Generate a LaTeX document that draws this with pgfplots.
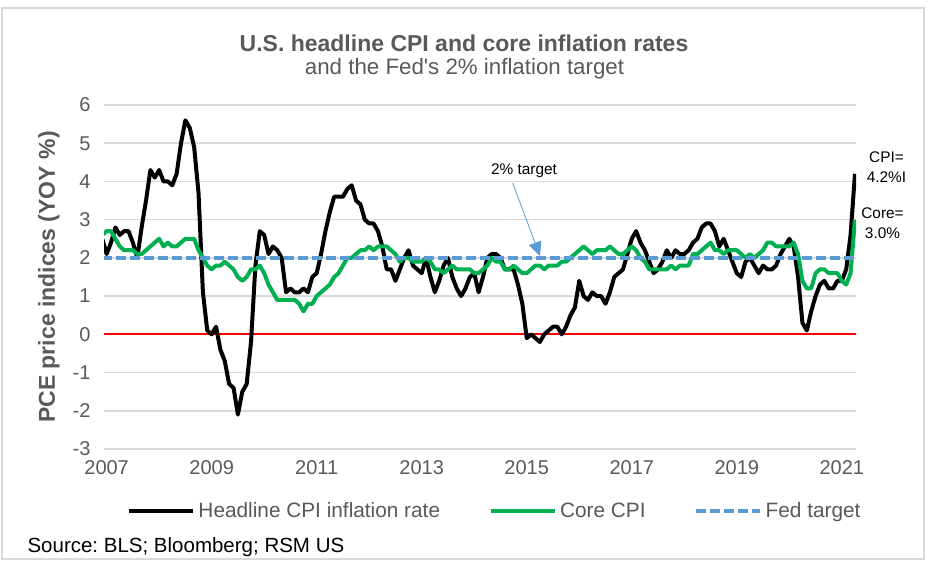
\documentclass[border=0pt]{standalone}
\usepackage{fontspec}
\setmainfont{Liberation Sans}
\usepackage{pgfplots}
\usepackage{pgfplotstable}
\pgfplotsset{compat=1.18}
\usetikzlibrary{arrows.meta}
\definecolor{txt}{HTML}{595959}
\definecolor{gridc}{HTML}{D9D9D9}
\definecolor{fed}{HTML}{5B9BD5}
\definecolor{corec}{HTML}{00B050}
\pgfplotstableread{
yr mo cpi core
2006 12 2.5 2.6
2007 1 2.1 2.7
2007 2 2.4 2.7
2007 3 2.8 2.5
2007 4 2.6 2.3
2007 5 2.7 2.2
2007 6 2.7 2.2
2007 7 2.4 2.2
2007 8 2.0 2.1
2007 9 2.8 2.1
2007 10 3.5 2.2
2007 11 4.3 2.3
2007 12 4.1 2.4
2008 1 4.3 2.5
2008 2 4.0 2.3
2008 3 4.0 2.4
2008 4 3.9 2.3
2008 5 4.2 2.3
2008 6 5.0 2.4
2008 7 5.6 2.5
2008 8 5.4 2.5
2008 9 4.9 2.5
2008 10 3.7 2.2
2008 11 1.1 2.0
2008 12 0.1 1.8
2009 1 0.0 1.7
2009 2 0.2 1.8
2009 3 -0.4 1.8
2009 4 -0.7 1.9
2009 5 -1.3 1.8
2009 6 -1.4 1.7
2009 7 -2.1 1.5
2009 8 -1.5 1.4
2009 9 -1.3 1.5
2009 10 -0.2 1.7
2009 11 1.8 1.7
2009 12 2.7 1.8
2010 1 2.6 1.6
2010 2 2.1 1.3
2010 3 2.3 1.1
2010 4 2.2 0.9
2010 5 2.0 0.9
2010 6 1.1 0.9
2010 7 1.2 0.9
2010 8 1.1 0.9
2010 9 1.1 0.8
2010 10 1.2 0.6
2010 11 1.1 0.8
2010 12 1.5 0.8
2011 1 1.6 1.0
2011 2 2.1 1.1
2011 3 2.7 1.2
2011 4 3.2 1.3
2011 5 3.6 1.5
2011 6 3.6 1.6
2011 7 3.6 1.8
2011 8 3.8 2.0
2011 9 3.9 2.0
2011 10 3.5 2.1
2011 11 3.4 2.2
2011 12 3.0 2.2
2012 1 2.9 2.3
2012 2 2.9 2.2
2012 3 2.7 2.3
2012 4 2.3 2.3
2012 5 1.7 2.3
2012 6 1.7 2.2
2012 7 1.4 2.1
2012 8 1.7 1.9
2012 9 2.0 2.0
2012 10 2.2 2.0
2012 11 1.8 1.9
2012 12 1.7 1.9
2013 1 1.6 1.9
2013 2 2.0 2.0
2013 3 1.5 1.9
2013 4 1.1 1.7
2013 5 1.4 1.7
2013 6 1.8 1.6
2013 7 2.0 1.7
2013 8 1.5 1.8
2013 9 1.2 1.7
2013 10 1.0 1.7
2013 11 1.2 1.7
2013 12 1.5 1.7
2014 1 1.6 1.6
2014 2 1.1 1.6
2014 3 1.5 1.7
2014 4 2.0 1.8
2014 5 2.1 2.0
2014 6 2.1 1.9
2014 7 2.0 1.9
2014 8 1.7 1.7
2014 9 1.7 1.7
2014 10 1.7 1.8
2014 11 1.3 1.7
2014 12 0.8 1.6
2015 1 -0.1 1.6
2015 2 0.0 1.7
2015 3 -0.1 1.8
2015 4 -0.2 1.8
2015 5 0.0 1.7
2015 6 0.1 1.8
2015 7 0.2 1.8
2015 8 0.2 1.8
2015 9 0.0 1.9
2015 10 0.2 1.9
2015 11 0.5 2.0
2015 12 0.7 2.1
2016 1 1.4 2.2
2016 2 1.0 2.3
2016 3 0.9 2.2
2016 4 1.1 2.1
2016 5 1.0 2.2
2016 6 1.0 2.2
2016 7 0.8 2.2
2016 8 1.1 2.3
2016 9 1.5 2.2
2016 10 1.6 2.1
2016 11 1.7 2.1
2016 12 2.1 2.2
2017 1 2.5 2.3
2017 2 2.7 2.2
2017 3 2.4 2.0
2017 4 2.2 1.9
2017 5 1.9 1.7
2017 6 1.6 1.7
2017 7 1.7 1.7
2017 8 1.9 1.7
2017 9 2.2 1.7
2017 10 2.0 1.8
2017 11 2.2 1.7
2017 12 2.1 1.8
2018 1 2.1 1.8
2018 2 2.2 1.8
2018 3 2.4 2.1
2018 4 2.5 2.1
2018 5 2.8 2.2
2018 6 2.9 2.3
2018 7 2.9 2.4
2018 8 2.7 2.2
2018 9 2.3 2.2
2018 10 2.5 2.1
2018 11 2.2 2.2
2018 12 1.9 2.2
2019 1 1.6 2.2
2019 2 1.5 2.1
2019 3 1.9 2.0
2019 4 2.0 2.1
2019 5 1.8 2.0
2019 6 1.6 2.1
2019 7 1.8 2.2
2019 8 1.7 2.4
2019 9 1.7 2.4
2019 10 1.8 2.3
2019 11 2.1 2.3
2019 12 2.3 2.3
2020 1 2.5 2.3
2020 2 2.3 2.4
2020 3 1.5 2.1
2020 4 0.3 1.4
2020 5 0.1 1.2
2020 6 0.6 1.2
2020 7 1.0 1.6
2020 8 1.3 1.7
2020 9 1.4 1.7
2020 10 1.2 1.6
2020 11 1.2 1.6
2020 12 1.4 1.6
2021 1 1.4 1.4
2021 2 1.7 1.3
2021 3 2.6 1.6
2021 4 4.2 3.0
}\cpidata
\begin{document}
\frenchspacing
\begin{tikzpicture}
\useasboundingbox (0,0) rectangle (929pt,566pt);
\draw[gridc, line width=1.5pt] (2pt,7pt) rectangle (924pt,558pt);
\begin{axis}[
  at={(104pt,117pt)}, anchor=south west,
  scale only axis, width=752pt, height=344pt,
  xmin=2006.95, xmax=2021.27, ymin=-3, ymax=6,
  axis line style={draw=none},
  major tick length=0pt,
  xtick={2007,2009,...,2021}, ytick={-3,-2,...,6},
  ymajorgrids, grid style={color=gridc, line width=1.5pt},
  tick label style={font=\fontsize{20}{24}\selectfont, text=txt},
  /pgf/number format/1000 sep={},
  /pgf/number format/assume math mode=true,
  xticklabel style={yshift=-8pt},
  yticklabel style={xshift=-10pt},
  legend columns=3,
  legend style={draw=none, fill=none, at={(0.5206,-0.180)}, anchor=center,
    font=\fontsize{20.8}{24}\selectfont, text=txt,
    nodes={inner sep=3.5pt},
    /tikz/every even column/.append style={column sep=45pt}},
  legend image code/.code={\draw[#1] (0pt,0pt) -- (64pt,0pt);},
]
\addplot[red, line width=2pt, forget plot] coordinates {(2006.9,0) (2021.3,0)};
\addplot[black, line width=4pt, line join=round] table[x expr=\thisrow{yr}+(\thisrow{mo}-1)/12, y=cpi] {\cpidata};
\addlegendentry{Headline CPI inflation rate}
\addplot[corec, line width=4pt, line join=round] table[x expr=\thisrow{yr}+(\thisrow{mo}-1)/12, y=core] {\cpidata};
\addlegendentry{Core CPI}
\addplot[fed, line width=4pt, dash pattern=on 10pt off 4pt] coordinates {(2006.9167,2) (2021.25,2)};
\addlegendentry{Fed target}
\end{axis}
\node[anchor=base, text=txt, font=\fontsize{23}{27}\selectfont\bfseries] at (464pt,514.3pt) {U.S. headline CPI and core inflation rates};
\node[anchor=base, text=txt, font=\fontsize{22.3}{27}\selectfont] at (464.5pt,491pt) {and the Fed\textquotesingle s 2\% inflation target};
\node[rotate=90, text=txt, font=\fontsize{23}{27}\selectfont\bfseries] at (49pt,289pt) {PCE price indices (YOY \%)};
\node[font=\fontsize{15.4}{19}\selectfont] at (524pt,395pt) {2\% target};
\draw[fed, line width=0.8pt, -{Triangle[length=14pt,width=13pt]}] (512.7pt,383pt) -- (540pt,310pt);
\node[align=center, font=\fontsize{15.4}{20}\selectfont] at (886.5pt,399pt) {CPI=\\4.2\%I};
\node[align=center, font=\fontsize{15.4}{20}\selectfont] at (882.5pt,342.5pt) {Core=\\3.0\%};
\node[anchor=west, font=\fontsize{20.5}{24}\selectfont] at (24pt,18.4pt) {Source: BLS; Bloomberg; RSM US};
\end{tikzpicture}
\end{document}
